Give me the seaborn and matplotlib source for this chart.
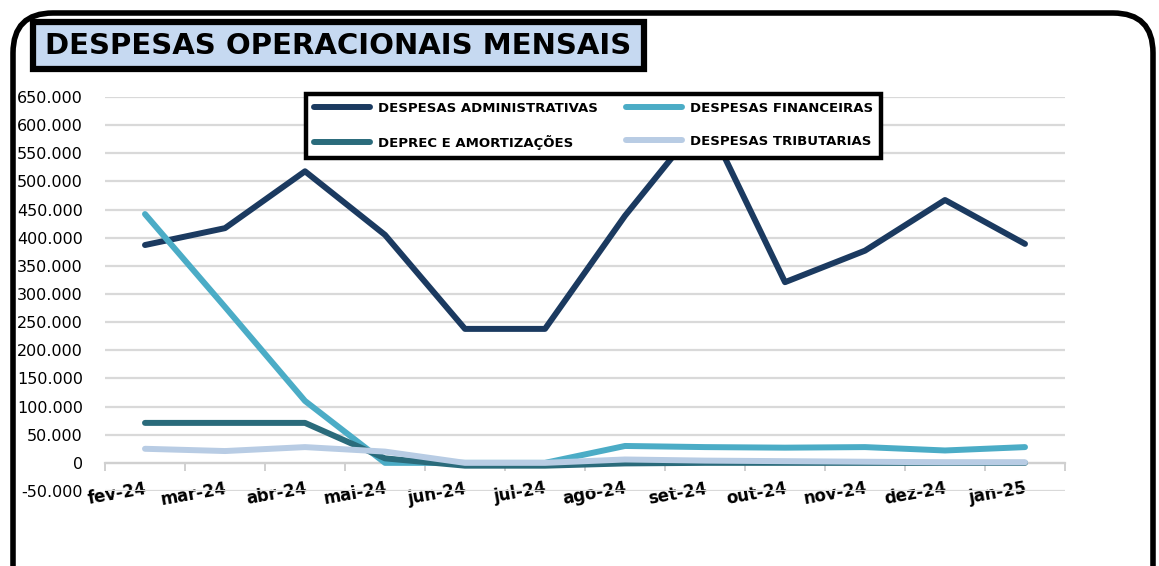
import matplotlib
matplotlib.use("Agg")
import matplotlib.pyplot as plt
import matplotlib.patches as mpatches
from matplotlib.transforms import IdentityTransform
from matplotlib.ticker import FuncFormatter, FixedLocator
import seaborn as sns
import pandas as pd

months = ["fev-24", "mar-24", "abr-24", "mai-24", "jun-24", "jul-24",
          "ago-24", "set-24", "out-24", "nov-24", "dez-24", "jan-25"]
administrativas = [387000, 417000, 518000, 405000, 238000, 238000,
                   439000, 615000, 321000, 377000, 467000, 389000]
financeiras = [442000, 277000, 110000, 0, 0, 0,
               30000, 28000, 27000, 28000, 22000, 28000]
deprec = [71000, 71000, 71000, 8000, -5000, -5000,
          -1000, 0, 0, 0, 0, 0]
tributarias = [25000, 21000, 28000, 20000, 0, 0,
               6000, 4000, 3000, 2000, 1000, 1000]

series_names = ["DESPESAS ADMINISTRATIVAS", "DESPESAS FINANCEIRAS",
                "DEPREC E AMORTIZAÇÕES", "DESPESAS TRIBUTARIAS"]
series_values = [administrativas, financeiras, deprec, tributarias]
colors = ["#1B3A60", "#4BACC6", "#2A6B7B", "#B8CCE4"]

rows = []
for name, vals in zip(series_names, series_values):
    for m, v in zip(months, vals):
        rows.append({"mes": m, "valor": v, "serie": name})
df = pd.DataFrame(rows)

sns.set_theme(style="white")
plt.rcParams["font.family"] = ["DejaVu Sans"]
plt.rcParams["text.color"] = "black"

W, H = 1159, 566
fig = plt.figure(figsize=(W / 100, H / 100), dpi=100)
ax = fig.add_axes([105 / W, 1 - 491 / H, 960 / W, 394 / H])

LW = 4.3
sns.lineplot(data=df, x="mes", y="valor", hue="serie", hue_order=series_names,
             palette=colors, linewidth=LW, sort=False, ax=ax, legend=False,
             solid_capstyle="round", zorder=3)

ax.set_xlim(-0.5, len(months) - 0.5)
ax.set_ylim(-50000, 650000)
ax.set_yticks(range(-50000, 650001, 50000))
ax.yaxis.set_major_formatter(FuncFormatter(lambda v, p: f"{int(v):,}".replace(",", ".")))
ax.grid(axis="y", color="#D9D9D9", linewidth=1.6, zorder=0)
ax.grid(axis="x", visible=False)
for s in ["top", "right", "left"]:
    ax.spines[s].set_visible(False)
ax.spines["bottom"].set_position(("data", 0))
ax.spines["bottom"].set_color("#D0D0D0")
ax.spines["bottom"].set_linewidth(1.6)
ax.spines["bottom"].set_zorder(1)

ax.set_xticks(range(len(months)))
ax.set_xticklabels(months, rotation=10, ha="right", rotation_mode="anchor",
                   fontsize=12, fontweight="bold", color="black")
ax.xaxis.set_minor_locator(FixedLocator([i - 0.5 for i in range(len(months) + 1)]))
ax.tick_params(axis="x", which="major", length=0, pad=12)
ax.tick_params(axis="x", which="minor", length=6, width=1.4, color="#D0D0D0", direction="out")
ax.tick_params(axis="x", which="minor", bottom=True)
ax.tick_params(axis="y", length=0, pad=16, labelsize=11.5, labelcolor="black")
ax.set_xlabel("")
ax.set_ylabel("")

handles = [plt.Line2D([], [], color=c, linewidth=LW, solid_capstyle="round") for c in colors]
order = [0, 2, 1, 3]
leg = ax.legend([handles[i] for i in order], [series_names[i] for i in order],
                ncol=2, loc="center", bbox_to_anchor=(0.203, 0.835, 0.612, 0.183),
                mode="expand", prop={"weight": "bold", "size": 9.5},
                frameon=True, fancybox=False, handlelength=4.2, labelspacing=1.5,
                columnspacing=0.6, handletextpad=0.6, borderpad=0.6)
for t in leg.get_texts():
    t.set_color("black")
leg.get_frame().set_edgecolor("black")
leg.get_frame().set_linewidth(3.2)
leg.get_frame().set_facecolor("white")
leg.get_frame().set_alpha(1)
leg.set_zorder(10)

# outer rounded border (pixel coordinates, y from bottom)
border = mpatches.FancyBboxPatch((13, -40), 1140, H - 13 + 40,
                                 boxstyle="round,pad=0,rounding_size=40",
                                 transform=IdentityTransform(), fill=False,
                                 edgecolor="black", linewidth=4)
fig.patches.append(border)

# title box
tbox = mpatches.Rectangle((33, H - 69), 611, 47, transform=IdentityTransform(),
                          facecolor="#C6D9F1", edgecolor="black", linewidth=4.5)
fig.patches.append(tbox)
fig.text(338 / W, 1 - 46 / H, "DESPESAS OPERACIONAIS MENSAIS", ha="center", va="center",
         fontsize=21, fontweight="bold", color="black")

fig.savefig("out.png", dpi=100)
